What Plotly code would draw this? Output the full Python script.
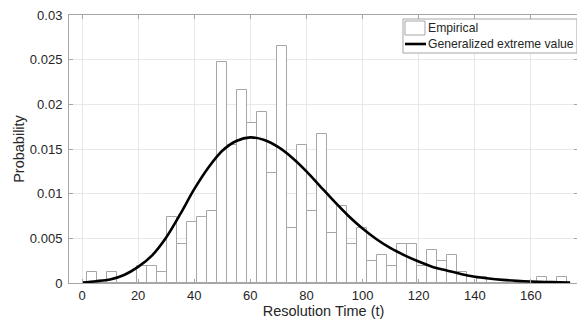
import plotly.graph_objects as go

# Histogram bins (centres, in resolution-time units) and their probability density
bin_centers = [3.58, 7.15, 10.72, 14.28, 17.85, 21.41, 24.98, 28.55, 32.11, 35.68,
               39.24, 42.81, 46.38, 49.94, 53.51, 57.07, 60.64, 64.21, 67.77, 71.34,
               74.90, 78.47, 82.04, 85.60, 89.17, 92.73, 96.30, 99.87, 103.43, 107.00,
               110.56, 114.13, 117.70, 121.26, 124.83, 128.39, 131.96, 135.53, 139.09, 142.66,
               146.22, 149.79, 153.36, 156.92, 160.49, 164.05, 167.62, 171.19]
bin_width = 3.566
empirical = [0.00123, 0.0, 0.00123, 0.0, 0.0, 0.00185, 0.00185, 0.00123, 0.0074, 0.00432,
             0.00679, 0.0074, 0.00802, 0.0247, 0.01543, 0.0216, 0.01789, 0.01913, 0.01234, 0.02653,
             0.00617, 0.01543, 0.00802, 0.01666, 0.00555, 0.00864, 0.00432, 0.00617, 0.00247, 0.00309,
             0.00185, 0.00432, 0.00432, 0.00185, 0.0037, 0.00247, 0.00309, 0.00123, 0.00062, 0.00062,
             0.0, 0.0, 0.0, 0.0, 0.0, 0.00062, 0.0, 0.00062]

# Fitted generalized extreme value curve
curve_t = [0, 5, 10, 15, 20, 25, 30, 35, 40, 45, 50, 55, 60, 65, 70, 75, 80, 85, 90, 95,
           100, 105, 110, 115, 120, 125, 130, 135, 140, 145, 150, 155, 160, 165, 170, 174]
curve_p = [0.00005, 0.0002, 0.0004, 0.0009, 0.0018, 0.0031, 0.0051, 0.0077, 0.0105, 0.0129,
           0.0148, 0.0159, 0.0163, 0.0160, 0.0152, 0.0140, 0.0125, 0.0108, 0.0091, 0.0075,
           0.0061, 0.0049, 0.0039, 0.0031, 0.0024, 0.0018, 0.0014, 0.0010, 0.0007, 0.0005,
           0.00035, 0.00024, 0.00016, 0.00011, 0.00008, 0.00006]

x_ticks = [0, 20, 40, 60, 80, 100, 120, 140, 160]
y_ticks = [0, 0.005, 0.01, 0.015, 0.02, 0.025, 0.03]
y_tick_labels = ["0", "0.005", "0.01", "0.015", "0.02", "0.025", "0.03"]
legend_labels = ["Empirical", "Generalized extreme value"]

FONT = "Liberation Sans, Arial, sans-serif"
EDGE = "#a6a6a6"
TXT = "#262626"

fig = go.Figure()
fig.add_trace(go.Bar(
    x=bin_centers, y=empirical, width=[bin_width] * len(bin_centers),
    name=legend_labels[0], showlegend=False,
    marker=dict(color="white", line=dict(color=EDGE, width=1)),
))
fig.add_trace(go.Scatter(
    x=curve_t, y=curve_p, mode="lines", name=legend_labels[1], showlegend=False,
    line=dict(color="black", width=2.6, shape="spline", smoothing=0.8),
))

axis_common = dict(
    showline=True, linecolor=EDGE, linewidth=1, mirror="ticks",
    ticks="inside", ticklen=4, tickcolor=EDGE,
    showgrid=True, gridcolor="#e8e8e8", gridwidth=1, zeroline=False,
    tickfont=dict(family=FONT, size=13, color=TXT),
    automargin=False, ticklabeloverflow="allow",
)

# custom legend (MATLAB-style, narrow icons)
shapes = [
    dict(type="rect", xref="paper", yref="paper", x0=0.6562, x1=0.998, y0=0.8582, y1=0.9851,
         line=dict(color=EDGE, width=1), fillcolor="white", layer="above"),
    dict(type="rect", xref="paper", yref="paper", x0=0.6601, x1=0.6994, y0=0.9254, y1=0.9776,
         line=dict(color=EDGE, width=1), fillcolor="white", layer="above"),
    dict(type="line", xref="paper", yref="paper", x0=0.6601, x1=0.7014, y0=0.8918, y1=0.8918,
         line=dict(color="black", width=2.6), layer="above"),
]
annotations = [
    dict(xref="paper", yref="paper", x=0.7033, y=0.9515, text=legend_labels[0],
         xanchor="left", yanchor="middle", showarrow=False, borderpad=0,
         font=dict(family=FONT, size=12.2, color=TXT)),
    dict(xref="paper", yref="paper", x=0.7033, y=0.8918, text=legend_labels[1],
         xanchor="left", yanchor="middle", showarrow=False, borderpad=0,
         font=dict(family=FONT, size=12.2, color=TXT)),
]

# page has an 8px body margin; figure sized so the plot area lands where the reference has it
fig.update_layout(
    width=577, height=315,
    margin=dict(l=61, r=7, t=7, b=40),
    paper_bgcolor="white", plot_bgcolor="white",
    bargap=0,
    showlegend=False,
    shapes=shapes,
    annotations=annotations,
    xaxis=dict(range=[-4.64, 176.8], tickvals=x_ticks,
               title=dict(text="Resolution Time (t)", standoff=2,
                          font=dict(family=FONT, size=14.5, color=TXT)),
               **axis_common),
    yaxis=dict(range=[0, 0.03], tickvals=y_ticks, ticktext=y_tick_labels,
               ticklabelstandoff=3,
               title=dict(text="Probability", standoff=1,
                          font=dict(family=FONT, size=14.5, color=TXT)),
               **axis_common),
)

fig.write_html("out.html")
